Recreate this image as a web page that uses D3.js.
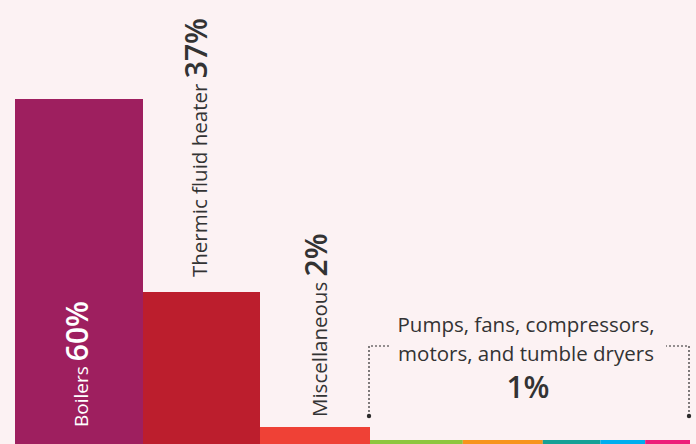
<!DOCTYPE html>
<html>
<head>
<meta charset="utf-8">
<script src="https://cdn.jsdelivr.net/npm/d3@7"></script>
<style>
	body { margin: 0; background: #fcf2f3; }
	svg { display: block; }
	text { font-family: "Open Sans", "Noto Sans", sans-serif; }
</style>
</head>
<body>
<svg id="chart" width="696" height="444"></svg>
<script>
// main categories
var categories = ["Boilers", "Thermic fluid heater", "Miscellaneous", "Pumps, fans, compressors, motors, and tumble dryers"];
var shares = [60, 37, 2, 1];
var colors = ["#9e1f5f", "#bc1e2d", "#ef4136", null];

// the 1% group split into its parts
var subCategories = ["Pumps", "Fans", "Compressors", "Motors", "Tumble dryers"];
var subShares = [0.29, 0.25, 0.18, 0.14, 0.14];
var subColors = ["#8dc63f", "#f7941d", "#16a096", "#00aeef", "#ed1e79"];

var width = 696,
	height = 444,
	margin = { left: 15, right: 6 };

// column widths in the picture are not equal, keep them as layout units
var colUnits = [128, 117, 110, 320];
var edges = [0].concat(Array.from(d3.cumsum(colUnits)));

var x = d3.scaleLinear()
	.domain([0, d3.sum(colUnits)])
	.range([margin.left, width - margin.right]);

// infographic, bars are not drawn to a single linear scale
var h = d3.scaleLinear()
	.domain([0, 1, 2, 37, 60])
	.range([0, 4, 17, 152, 345]);

var svg = d3.select("#chart");

var data = categories.map(function (c, i) {
	return { name: c, value: shares[i], color: colors[i], x0: edges[i], x1: edges[i + 1] };
});

// the three solid bars
svg.append("g")
	.selectAll("rect")
	.data(data.slice(0, 3))
	.enter()
	.append("rect")
	.attr("x", function (d) { return x(d.x0); })
	.attr("width", function (d) { return x(d.x1) - x(d.x0); })
	.attr("y", function (d) { return height - h(d.value); })
	.attr("height", function (d) { return h(d.value); })
	.attr("fill", function (d) { return d.color; });

// the 1% group as coloured strips
var last = data[3];
var xs = d3.scaleLinear()
	.domain([0, d3.sum(subShares)])
	.range([x(last.x0), x(last.x1)]);
var subEdges = [0].concat(Array.from(d3.cumsum(subShares)));

svg.append("g")
	.selectAll("rect")
	.data(subCategories)
	.enter()
	.append("rect")
	.attr("x", function (d, i) { return xs(subEdges[i]); })
	.attr("width", function (d, i) { return xs(subEdges[i + 1]) - xs(subEdges[i]); })
	.attr("y", height - h(last.value))
	.attr("height", h(last.value))
	.attr("fill", function (d, i) { return subColors[i]; });

// rotated labels
var labelPos = [
	{ bx: 88, by: 427, fill: "#fff", size: 19 },
	{ bx: 207, by: 277, fill: "#333", size: 20.5 },
	{ bx: 327, by: 417, fill: "#333", size: 20.5 }
];

var labels = svg.append("g")
	.selectAll("text")
	.data(data.slice(0, 3))
	.enter()
	.append("text")
	.attr("transform", function (d, i) {
		return "translate(" + labelPos[i].bx + "," + labelPos[i].by + ") rotate(-90)";
	})
	.attr("fill", function (d, i) { return labelPos[i].fill; });

labels.append("tspan")
	.style("font-size", function (d, i) { return labelPos[i].size + "px"; })
	.text(function (d) { return d.name + " "; });
labels.append("tspan")
	.style("font-size", "30px")
	.style("font-weight", 600)
	.text(function (d) { return d.value + "%"; });

// bracket over the 1% group
var bl = x(last.x0) - 1,
	br = x(last.x1) - 1,
	bTop = 346,
	bBot = 416;

var bracket = svg.append("g")
	.attr("stroke", "#2b2b2b")
	.attr("stroke-width", 1.2)
	.attr("stroke-dasharray", "2,2")
	.attr("fill", "none");
bracket.append("path").attr("d", "M" + bl + "," + bBot + "V" + bTop + "H" + (bl + 21));
bracket.append("path").attr("d", "M" + br + "," + bBot + "V" + bTop + "H" + (br - 23));
svg.selectAll("circle.end")
	.data([bl, br])
	.enter()
	.append("circle")
	.attr("class", "end")
	.attr("cx", function (d) { return d; })
	.attr("cy", bBot)
	.attr("r", 2.2)
	.attr("fill", "#2b2b2b");

var cx = (bl + br) / 2 - 3;
var note = svg.append("g")
	.attr("text-anchor", "middle")
	.attr("fill", "#333");
note.append("text")
	.attr("x", cx)
	.attr("y", 332)
	.style("font-size", "20.5px")
	.text("Pumps, fans, compressors,");
note.append("text")
	.attr("x", cx)
	.attr("y", 361)
	.style("font-size", "20.5px")
	.text("motors, and tumble dryers");
note.append("text")
	.attr("x", cx + 2)
	.attr("y", 398)
	.style("font-size", "30px")
	.style("font-weight", 600)
	.text(last.value + "%");
</script>
</body>
</html>
